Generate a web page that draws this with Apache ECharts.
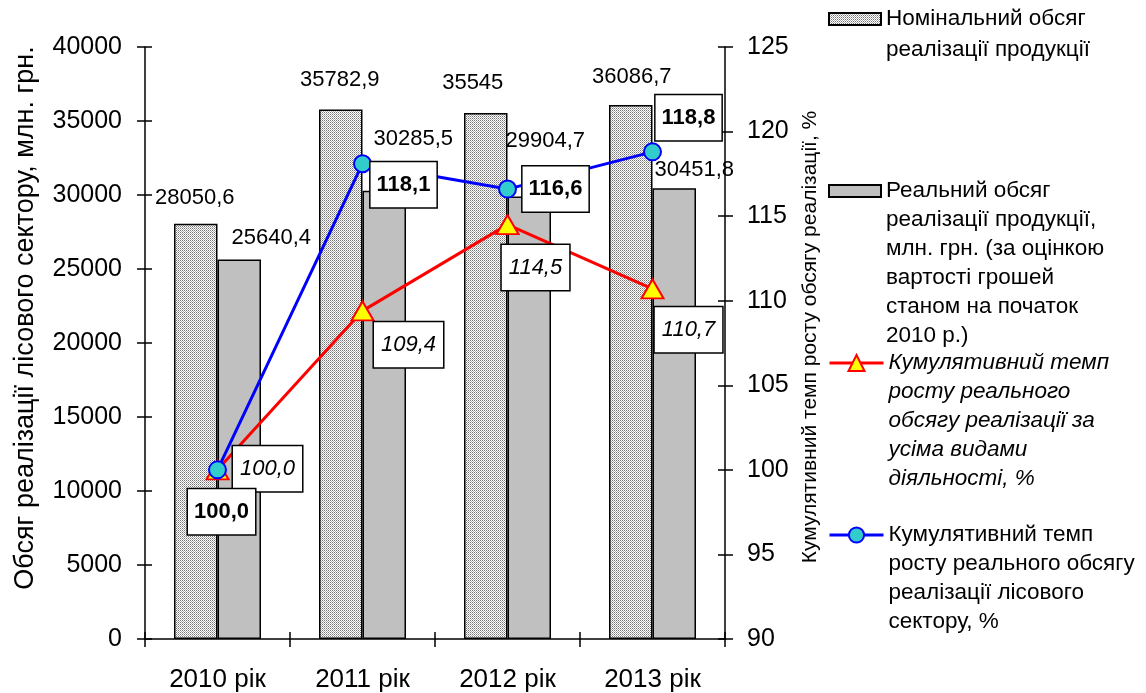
<!DOCTYPE html>
<html><head><meta charset="utf-8">
<script src="https://cdn.jsdelivr.net/npm/echarts@6/dist/echarts.min.js"></script>
<style>html,body{margin:0;padding:0;background:#fff}#c{width:1146px;height:693px}</style>
</head><body><div id="c"></div>
<script>
// ---- data ----
const categories = ['2010 рік', '2011 рік', '2012 рік', '2013 рік'];
const nominal = [28050.6, 35782.9, 35545, 36086.7];
const real = [25640.4, 30285.5, 29904.7, 30451.8];
const cumAll = [100.0, 109.4, 114.5, 110.7];
const cumForest = [100.0, 118.1, 116.6, 118.8];
const leftAxis = { min: 0, max: 40000, interval: 5000 };
const rightAxis = { min: 90, max: 125, interval: 5 };
const seriesNames = ['nominal', 'real', 'cumAll', 'cumForest'];
const legendLines = [
  ['Номінальний обсяг', 'реалізації продукції'],
  ['Реальний обсяг', 'реалізації продукції,', 'млн. грн. (за оцінкою', 'вартості грошей', 'станом на початок', '2010 р.)'],
  ['Кумулятивний темп', 'росту реального', 'обсягу реалізації за', 'усіма видами', 'діяльності, %'],
  ['Кумулятивний темп', 'росту реального обсягу', 'реалізації лісового', 'сектору, %']
];
const leftTitle = 'Обсяг реалізації лісового сектору, млн. грн.';
const rightTitle = 'Кумулятивний темп росту обсягу реалізації, %';

// ---- label placement (layout only) ----
const nominalOff = [[-1, -15], [-1, -18], [-13, -19], [1, -17]];
const realOff = [[32, -11], [29, -41], [16, -44], [20, -7]];
const allOff = [[50, -1], [46, 34], [28, 43], [36, 41]];
const forestOff = [[4, 42], [41, 21], [48, 0], [36, -34]];

const FONT = '"Liberation Sans", Arial, sans-serif';

// hatch pattern
const pc = document.createElement('canvas');
pc.width = 2; pc.height = 2;
const pctx = pc.getContext('2d');
pctx.fillStyle = '#ffffff'; pctx.fillRect(0, 0, 2, 2);
pctx.fillStyle = '#777777'; pctx.fillRect(0, 0, 1, 1);
pctx.fillStyle = '#b0b0b0'; pctx.fillRect(1, 1, 1, 1);
const hatch = { image: pc, repeat: 'repeat' };

const fmtBar = v => String(v).replace('.', ',');
const fmtLine = v => v.toFixed(1).replace('.', ',');

function withOffsets(vals, offs) {
  return vals.map((v, i) => ({ value: v, label: { offset: offs[i] } }));
}

function mkLegend(name, lines, lh, iconY, italic, iw, ih) {
  const n = lines.length;
  // leading blank lines keep the first text line level with the icon
  const text = '\n'.repeat(n - 1) + lines.join('\n');
  return {
    data: [name], left: 828, top: iconY - (2 * n - 1) * lh / 2, padding: 0,
    itemWidth: iw, itemHeight: ih, selectedMode: false,
    icon: ih <= 12 ? 'rect' : undefined,
    lineStyle: { width: 3 },
    formatter: () => text,
    textStyle: {
      fontSize: 22.5, lineHeight: lh, fontFamily: FONT, color: '#000',
      fontStyle: italic ? 'italic' : 'normal'
    }
  };
}

const axisBlack = { color: '#000', width: 1.5 };
const innerTickAxis = (range, pos) => ({
  type: 'value', min: range.min, max: range.max, interval: range.interval, position: pos,
  axisLine: { show: false }, axisLabel: { show: false }, splitLine: { show: false },
  axisTick: { show: true, inside: true, length: 7, lineStyle: axisBlack }
});

const chart = echarts.init(document.getElementById('c'), null, { renderer: 'canvas' });
chart.setOption({
  animation: false,
  backgroundColor: '#fff',
  textStyle: { fontFamily: FONT },
  grid: { left: 145, right: 421, top: 47, bottom: 53, containLabel: false },
  legend: [
    mkLegend('nominal', legendLines[0], 31, 19, false, 52, 12),
    mkLegend('real', legendLines[1], 29, 191, false, 52, 12),
    mkLegend('cumAll', legendLines[2], 29, 363, true, 54, 20),
    mkLegend('cumForest', legendLines[3], 29, 535, false, 54, 19)
  ],
  xAxis: [
    {
      type: 'category', data: categories,
      axisLine: { lineStyle: axisBlack },
      axisTick: { show: true, length: 8, lineStyle: axisBlack },
      axisLabel: { color: '#000', fontSize: 26, fontFamily: FONT, margin: 28 },
      splitLine: { show: false }
    },
    {
      type: 'category', data: categories, position: 'bottom',
      axisLine: { show: false },
      axisTick: { show: true, inside: true, length: 7, lineStyle: axisBlack },
      axisLabel: { show: false }, splitLine: { show: false }
    }
  ],
  yAxis: [
    {
      type: 'value', min: leftAxis.min, max: leftAxis.max, interval: leftAxis.interval,
      position: 'left',
      name: leftTitle, nameLocation: 'middle', nameGap: 106, nameRotate: 90,
      nameTextStyle: { color: '#000', fontSize: 27, fontFamily: FONT, padding: [0, 0, 0, 50] },
      axisLine: { show: true, lineStyle: axisBlack },
      axisTick: { show: true, length: 8, lineStyle: axisBlack },
      axisLabel: { color: '#000', fontSize: 25, fontFamily: FONT, margin: 23, formatter: v => String(v) },
      splitLine: { show: false }
    },
    {
      type: 'value', min: rightAxis.min, max: rightAxis.max, interval: rightAxis.interval,
      position: 'right',
      name: rightTitle, nameLocation: 'middle', nameGap: 72, nameRotate: 90,
      nameTextStyle: { color: '#000', fontSize: 21, fontFamily: FONT, padding: [0, 0, 0, 12] },
      axisLine: { show: true, lineStyle: axisBlack },
      axisTick: { show: true, length: 8, lineStyle: axisBlack },
      axisLabel: { color: '#000', fontSize: 25, fontFamily: FONT, margin: 22, formatter: v => String(v) },
      splitLine: { show: false }
    },
    innerTickAxis(leftAxis, 'left'),
    innerTickAxis(rightAxis, 'right')
  ],
  series: [
    {
      name: seriesNames[0], type: 'bar', yAxisIndex: 0,
      data: withOffsets(nominal, nominalOff),
      barGap: '0%', barCategoryGap: '40%',
      itemStyle: { color: hatch, borderColor: '#000', borderWidth: 1.5 },
      label: { show: true, position: 'top', distance: 0, color: '#000', fontSize: 22, fontFamily: FONT,
        formatter: p => fmtBar(p.value) },
      z: 2
    },
    {
      name: seriesNames[1], type: 'bar', yAxisIndex: 0,
      data: withOffsets(real, realOff),
      itemStyle: { color: '#c0c0c0', borderColor: '#000', borderWidth: 1.5 },
      label: { show: true, position: 'top', distance: 0, color: '#000', fontSize: 22, fontFamily: FONT,
        formatter: p => fmtBar(p.value) },
      z: 2
    },
    {
      name: seriesNames[2], type: 'line', yAxisIndex: 1,
      data: withOffsets(cumAll, allOff),
      lineStyle: { color: '#ff0000', width: 3 },
      symbol: 'triangle', symbolSize: [22, 19],
      itemStyle: { color: '#ffff00', borderColor: '#ff0000', borderWidth: 2 },
      label: { show: true, position: 'inside', color: '#000', fontSize: 22, fontStyle: 'italic', fontFamily: FONT,
        backgroundColor: '#fff', borderColor: '#000', borderWidth: 1.5, padding: [12, 7, 11, 7], lineHeight: 22,
        formatter: p => fmtLine(p.value) },
      z: 5
    },
    {
      name: seriesNames[3], type: 'line', yAxisIndex: 1,
      data: withOffsets(cumForest, forestOff),
      lineStyle: { color: '#0000ff', width: 3 },
      symbol: 'circle', symbolSize: 17,
      itemStyle: { color: '#33cccc', borderColor: '#0000ff', borderWidth: 2 },
      label: { show: true, position: 'inside', color: '#000', fontSize: 22, fontWeight: 'bold', fontFamily: FONT,
        backgroundColor: '#fff', borderColor: '#000', borderWidth: 1.5, padding: [12, 6, 11, 6], lineHeight: 22,
        formatter: p => fmtLine(p.value) },
      z: 6
    }
  ]
});
</script>
</body></html>
